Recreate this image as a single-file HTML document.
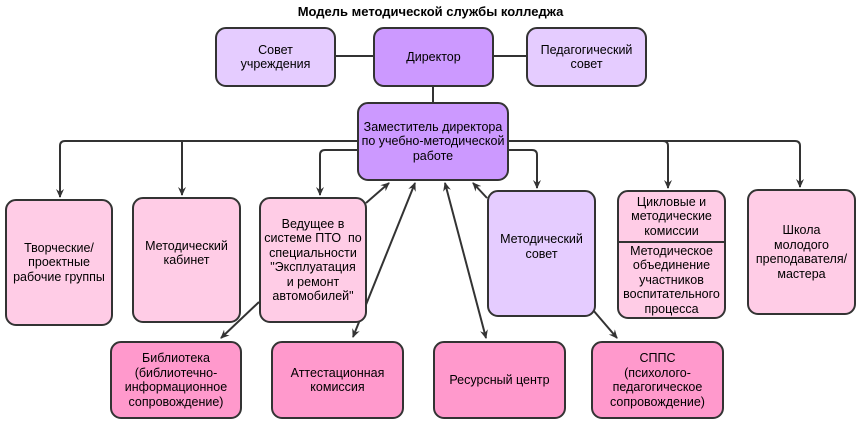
<!DOCTYPE html>
<html><head><meta charset="utf-8"><style>
body{margin:0;width:861px;height:423px;background:#fff;overflow:hidden;position:relative;font-family:"Liberation Sans",Arial,sans-serif;}
.b{position:absolute;box-sizing:border-box;border:2px solid #333;border-radius:11px;display:flex;align-items:center;justify-content:center;text-align:center;font-size:12.5px;line-height:14.5px;color:#000;}
.l{background:#e5ccff}.d{background:#cc99ff}.p{background:#ffcce6}.k{background:#ff99cc}
svg{position:absolute;left:0;top:0}
</style></head><body>
<svg width="861" height="423">
<defs><marker id="a" markerWidth="10" markerHeight="10" refX="8" refY="5" orient="auto" markerUnits="userSpaceOnUse"><path d="M0,1 L9,5 L0,9 L3,5z" fill="#333"/></marker>
<marker id="s" markerWidth="10" markerHeight="10" refX="1" refY="5" orient="auto" markerUnits="userSpaceOnUse"><path d="M9,1 L0,5 L9,9 L6,5z" fill="#333"/></marker></defs>
<g stroke="#333" stroke-width="2" fill="none">
<line x1="335" y1="56" x2="373" y2="56"/><line x1="493" y1="56" x2="526" y2="56"/>
<line x1="433" y1="86" x2="433" y2="103"/>
<path d="M357,141 H65 Q60,141 60,146 V197" marker-end="url(#a)"/>
<path d="M182,141 V195" marker-end="url(#a)"/>
<path d="M357,150 H325 Q320,150 320,155 V195" marker-end="url(#a)"/>
<path d="M508,150 H532 Q537,150 537,155 V188" marker-end="url(#a)"/>
<path d="M508,141 H795 Q800,141 800,146 V187" marker-end="url(#a)"/>
<path d="M663,141 Q668,141 668,146 V188" marker-end="url(#a)"/>
<line x1="366" y1="203" x2="389" y2="183" marker-end="url(#a)"/>
<line x1="487" y1="198" x2="473" y2="183" marker-end="url(#a)"/>
<line x1="353" y1="337" x2="415" y2="183" marker-start="url(#s)" marker-end="url(#a)"/>
<line x1="486" y1="338" x2="445" y2="183" marker-start="url(#s)" marker-end="url(#a)"/>
<line x1="259" y1="302" x2="221" y2="338" marker-end="url(#a)"/>
<line x1="593" y1="310" x2="617" y2="338" marker-end="url(#a)"/>
</g></svg>
<div style="position:absolute;left:0;width:861px;top:4px;text-align:center;font-weight:bold;font-size:13px">Модель методической службы колледжа</div>
<div class="b l" style="left:215px;top:27px;width:121px;height:60px">Совет<br>учреждения</div>
<div class="b d" style="left:373px;top:27px;width:121px;height:60px">Директор</div>
<div class="b l" style="left:526px;top:27px;width:121px;height:60px">Педагогический<br>совет</div>
<div class="b d" style="left:357px;top:102px;width:152px;height:79px">Заместитель директора<br>по учебно-методической<br>работе</div>
<div class="b p" style="left:5px;top:199px;width:108px;height:127px">Творческие/<br>проектные<br>рабочие группы</div>
<div class="b p" style="left:132px;top:197px;width:109px;height:126px;padding-bottom:14px">Методический<br>кабинет</div>
<div class="b p" style="left:259px;top:197px;width:108px;height:126px">Ведущее в<br>системе ПТО&nbsp; по<br>специальности<br>"Эксплуатация<br>и ремонт<br>автомобилей"</div>
<div class="b l" style="left:487px;top:190px;width:109px;height:127px;padding-bottom:14px">Методический<br>совет</div>
<div class="b p" style="left:617px;top:190px;width:109px;height:129px;flex-direction:column;justify-content:flex-start">
<div style="height:49px;width:100%;display:flex;align-items:center;justify-content:center;border-bottom:2px solid #333">Цикловые и<br>методические<br>комиссии</div>
<div style="flex:1;display:flex;align-items:center;justify-content:center">Методическое<br>объединение<br>участников<br>воспитательного<br>процесса</div></div>
<div class="b p" style="left:747px;top:189px;width:109px;height:126px">Школа<br>молодого<br>преподавателя/<br>мастера</div>
<div class="b k" style="left:110px;top:341px;width:132px;height:78px">Библиотека<br>(библиотечно-<br>информационное<br>сопровождение)</div>
<div class="b k" style="left:271px;top:341px;width:133px;height:78px">Аттестационная<br>комиссия</div>
<div class="b k" style="left:433px;top:341px;width:133px;height:78px">Ресурсный центр</div>
<div class="b k" style="left:591px;top:341px;width:133px;height:78px">СППС<br>(психолого-<br>педагогическое<br>сопровождение)</div>
</body></html>
